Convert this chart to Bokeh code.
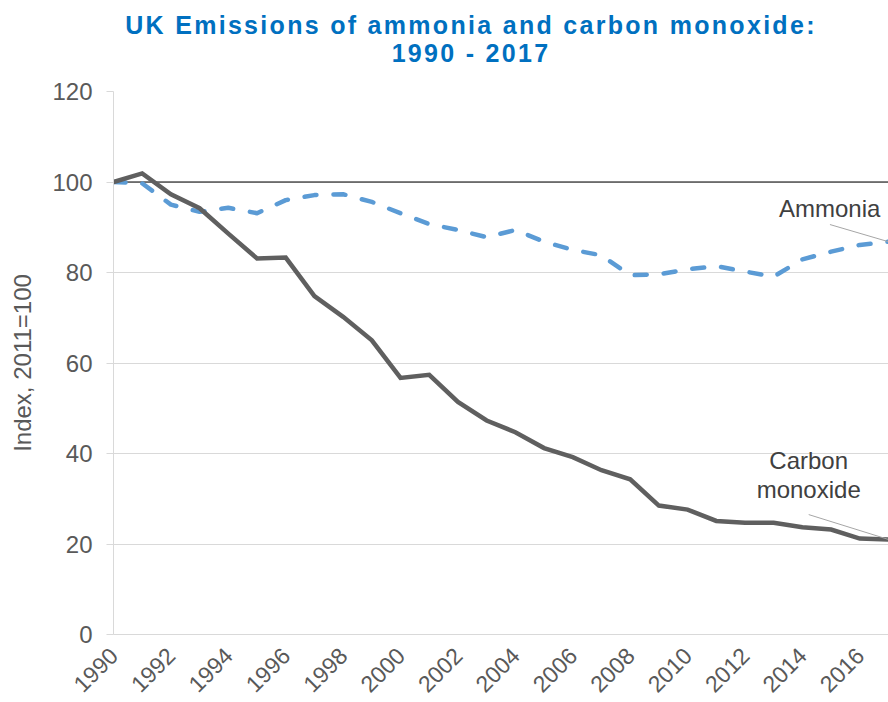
from bokeh.plotting import figure
from bokeh.models import Range1d, Span, FixedTicker, ColumnDataSource, Div
from bokeh.layouts import column
from bokeh.core.properties import value
from bokeh.embed import file_html
from bokeh.resources import INLINE
import math

# ---- data ----
years = list(range(1990, 2018))
carbon_monoxide = [100.0, 101.9, 97.3, 94.2, 88.6, 83.1, 83.3, 74.8, 70.2, 65.0,
                   56.7, 57.4, 51.4, 47.3, 44.7, 41.2, 39.2, 36.3, 34.3, 28.5,
                   27.6, 25.1, 24.7, 24.7, 23.7, 23.2, 21.2, 21.0]
ammonia = [100.0, 99.7, 95.0, 93.4, 94.3, 93.1, 96.0, 97.1, 97.3, 95.6,
           93.1, 90.7, 89.4, 87.8, 89.4, 86.8, 85.0, 83.8, 79.4, 79.6,
           80.7, 81.4, 80.2, 79.1, 82.9, 84.6, 86.1, 86.8]
x_ticks = list(range(1990, 2017, 2))
y_ticks = [0, 20, 40, 60, 80, 100, 120]
title_lines = ["UK Emissions of ammonia and carbon monoxide:", "1990 - 2017"]
y_label = "Index, 2011=100"
base_index = 100

FONT = "Liberation Sans"
GREY_TXT = "#595959"

title_html = (
    '<div style="box-sizing:border-box; width:888px; padding:10.5px 0 0 54px; margin:0; '
    "font-family:'Liberation Sans', Arial, sans-serif; font-weight:bold; font-size:25px; "
    'letter-spacing:2.3px; line-height:28px; color:#0070C0; text-align:center;">'
    + "<br>".join(title_lines) + "</div>"
)
title_div = Div(text=title_html, width=888, height=71, margin=0)

p = figure(width=888, height=631, output_backend="svg", toolbar_location=None,
           x_range=Range1d(1990, 2017), y_range=Range1d(0, 120),
           min_border_left=113, min_border_right=0, min_border_top=20,
           min_border_bottom=68)
p.outline_line_color = None
p.background_fill_color = "white"
p.border_fill_color = "white"

# grid
p.xgrid.grid_line_color = None
p.ygrid.grid_line_color = "#D9D9D9"
p.ygrid.grid_line_width = 1

# axes
p.xaxis.ticker = FixedTicker(ticks=x_ticks)
p.yaxis.ticker = FixedTicker(ticks=y_ticks)
p.xaxis.major_label_orientation = math.pi / 4
p.xaxis.major_tick_line_color = None
p.xaxis.major_tick_out = 0
p.xaxis.major_tick_in = 0
p.xaxis.minor_tick_line_color = None
p.xaxis.axis_line_color = "#D9D9D9"
p.xaxis.major_label_text_font = FONT
p.xaxis.major_label_text_font_size = "23px"
p.xaxis.major_label_text_color = GREY_TXT
p.xaxis.major_label_standoff = 17

p.yaxis.axis_line_color = "#D9D9D9"
p.yaxis.major_tick_line_color = "#D9D9D9"
p.yaxis.major_tick_in = 0
p.yaxis.major_tick_out = 7
p.yaxis.minor_tick_line_color = None
p.yaxis.major_label_text_font = FONT
p.yaxis.major_label_text_font_size = "24px"
p.yaxis.major_label_text_color = GREY_TXT
p.yaxis.major_label_standoff = 14
p.yaxis.axis_label = y_label
p.yaxis.axis_label_text_font = FONT
p.yaxis.axis_label_text_font_size = "24px"
p.yaxis.axis_label_text_font_style = "normal"
p.yaxis.axis_label_text_color = GREY_TXT
p.yaxis.axis_label_standoff = 13

# reference line at index 100
p.add_layout(Span(location=base_index, dimension="width", line_color="black",
                  line_width=1, level="underlay"))

src = ColumnDataSource(dict(year=years, co=carbon_monoxide, nh3=ammonia))
p.line("year", "nh3", source=src, line_color="#5B9BD5", line_width=4.5,
       line_dash="12 17", line_cap="round", line_join="round")
p.line("year", "co", source=src, line_color="#5F5F5F", line_width=4.5,
       line_join="miter")

# annotations with leader lines
last_year = years[-1]
p.segment(x0=[2014.96, 2014.22], y0=[90.6, 26.5],
          x1=[last_year, last_year], y1=[ammonia[-1], carbon_monoxide[-1]],
          line_color="#A6A6A6", line_width=1)
p.text(x=[2014.95, 2014.22, 2014.22], y=[94.1, 38.4, 32.0],
       text=["Ammonia", "Carbon", "monoxide"],
       text_font=value(FONT), text_font_size=value("24px"),
       text_color="#404040", text_align="center", text_baseline="alphabetic")

layout = column(title_div, p, spacing=0)
open("out.html", "w").write(file_html(layout, INLINE))
